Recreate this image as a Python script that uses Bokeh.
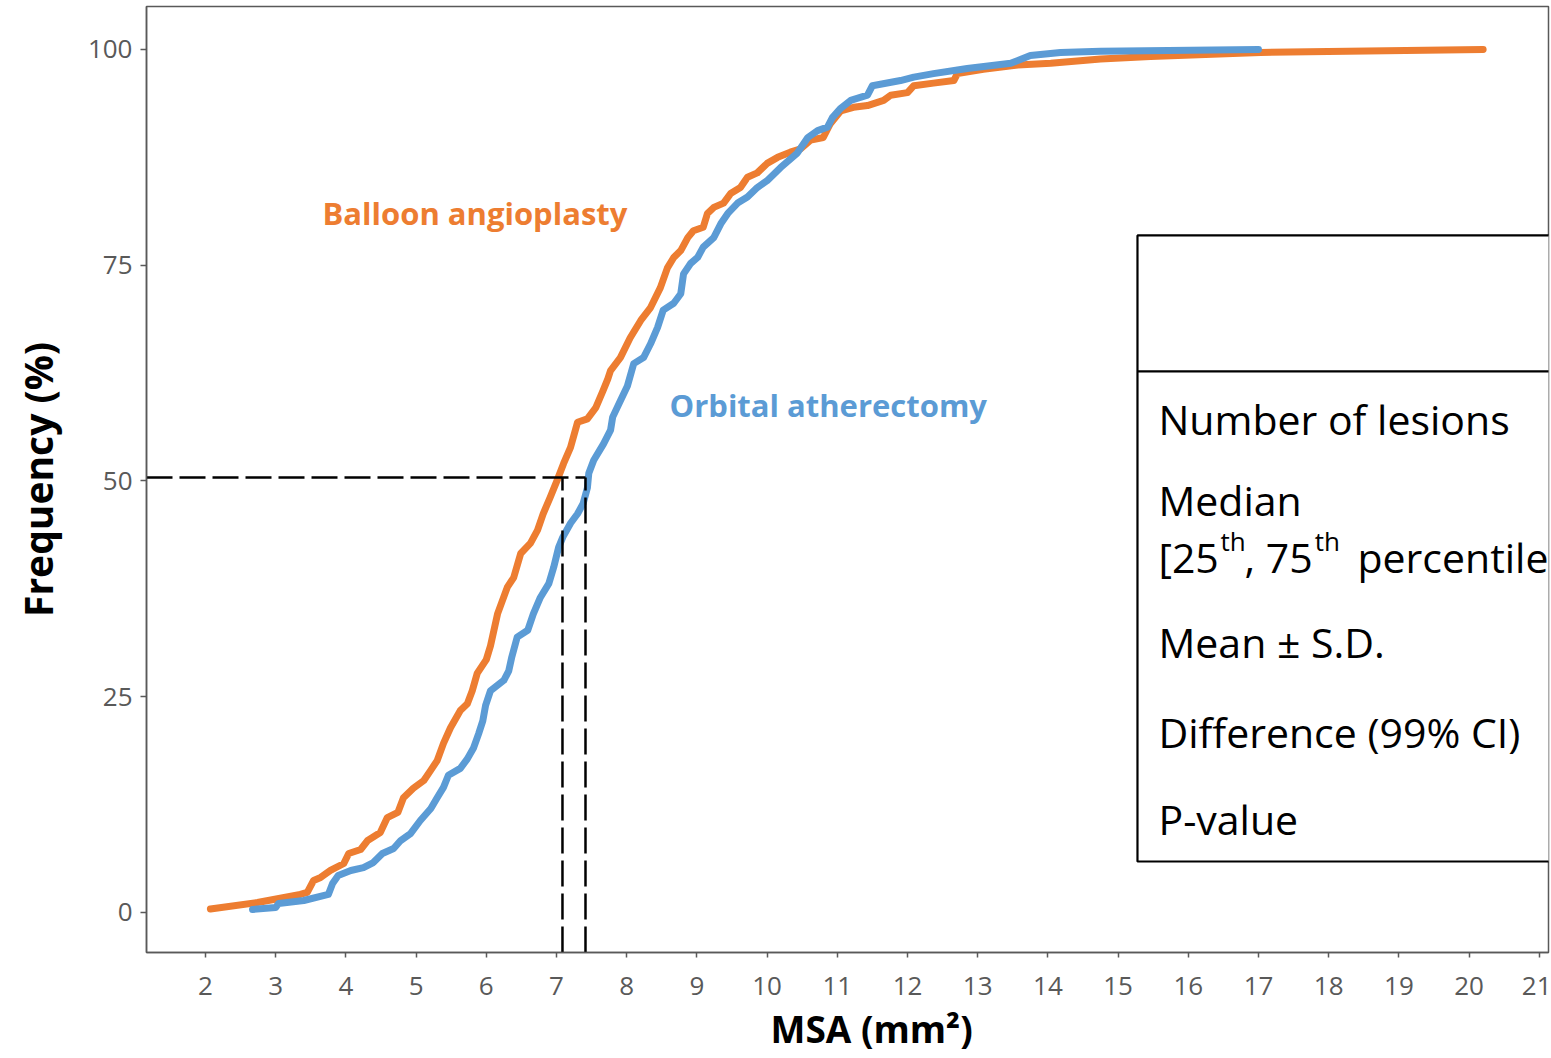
from bokeh.plotting import figure
from bokeh.models import Range1d, Title, FixedTicker
from bokeh.core.properties import value
from bokeh.embed import file_html
from bokeh.resources import INLINE

# ---------------- data ----------------
balloon_x = [2.07, 2.74, 3.35, 3.45, 3.54, 3.64, 3.78, 3.97, 4.04, 4.21, 4.31, 4.49, 4.59, 4.74,
             4.82, 4.96, 5.11, 5.21, 5.30, 5.39, 5.49, 5.63, 5.73, 5.80, 5.87, 6.00, 6.06, 6.16,
             6.30, 6.39, 6.49, 6.63, 6.73, 6.81, 6.91, 7.01, 7.10, 7.20, 7.30, 7.44, 7.56, 7.66,
             7.73, 7.77, 7.91, 8.05, 8.20, 8.34, 8.48, 8.58, 8.67, 8.77, 8.87, 8.95, 9.09, 9.15,
             9.24, 9.38, 9.48, 9.62, 9.72, 9.86, 10.0, 10.15, 10.33, 10.48, 10.62, 10.80, 10.90,
             11.05, 11.23, 11.43, 11.66, 11.76, 12.0, 12.09, 12.37, 12.66, 12.71, 13.08, 13.57,
             14.04, 14.75, 15.46, 17.03, 20.2]
balloon_y = [0.4, 1.16, 2.09, 2.32, 3.71, 4.06, 4.87, 5.68, 6.84, 7.30, 8.34, 9.27, 11.0, 11.6,
             13.3, 14.4, 15.3, 16.5, 17.6, 19.6, 21.4, 23.4, 24.2, 25.7, 27.7, 29.3, 30.9, 34.6,
             37.7, 38.8, 41.6, 42.8, 44.3, 46.2, 48.1, 50.1, 52.0, 53.9, 56.8, 57.2, 58.5, 60.4,
             61.8, 62.8, 64.3, 66.6, 68.6, 70.1, 72.4, 74.7, 75.9, 76.7, 78.2, 79.0, 79.4, 81.0,
             81.7, 82.2, 83.3, 84.0, 85.2, 85.7, 86.8, 87.5, 88.1, 88.5, 89.5, 89.8, 91.4,
             92.9, 93.3, 93.5, 94.1, 94.7, 95.0, 95.8, 96.1, 96.4, 97.2, 97.7, 98.2,
             98.4, 98.9, 99.2, 99.65, 100.0]

orbital_x = [2.67, 3.0, 3.04, 3.40, 3.75, 3.81, 3.89, 4.07, 4.25, 4.39, 4.52, 4.68, 4.78, 4.92,
             5.06, 5.21, 5.30, 5.39, 5.46, 5.63, 5.73, 5.82, 5.89, 5.95, 5.99, 6.06, 6.25, 6.32,
             6.36, 6.44, 6.59, 6.67, 6.77, 6.89, 6.96, 7.03, 7.09, 7.20, 7.30, 7.38, 7.44, 7.46,
             7.53, 7.67, 7.77, 7.80, 7.91, 8.01, 8.10, 8.24, 8.34, 8.44, 8.52, 8.67, 8.77, 8.81,
             8.91, 9.01, 9.09, 9.24, 9.34, 9.44, 9.58, 9.72, 9.86, 10.0, 10.19, 10.43, 10.58,
             10.72, 10.86, 10.93, 11.05, 11.19, 11.43, 11.50, 11.90, 12.09, 12.37, 12.85, 13.47,
             13.75, 14.18, 14.75, 17.0]
orbital_y = [0.35, 0.58, 1.04, 1.39, 2.09, 3.36, 4.29, 4.87, 5.21, 5.79, 6.84, 7.42, 8.34, 9.15,
             10.66, 12.05, 13.3, 14.5, 15.9, 16.7, 17.8, 19.1, 20.7, 22.2, 24.0, 25.7, 26.9, 28.0,
             29.5, 31.9, 32.7, 34.6, 36.5, 38.1, 40.0, 42.3, 43.5, 45.1, 46.2, 47.4, 49.2, 50.9,
             52.4, 54.3, 55.9, 57.4, 59.3, 61.0, 63.6, 64.3, 65.9, 67.8, 69.8, 70.6, 71.7, 74.0,
             75.2, 75.9, 77.1, 78.2, 79.8, 81.0, 82.2, 82.9, 84.0, 84.8, 86.3, 88.0, 89.8,
             90.6, 91.0, 92.1, 93.2, 94.1, 94.7, 95.8, 96.4, 96.8, 97.2, 97.8, 98.4,
             99.3, 99.65, 99.8, 100.0]

median_level = 50
median_balloon = 7.085
median_orbital = 7.413

x_ticks = list(range(2, 22))
y_ticks = [0, 25, 50, 75, 100]

table_rows = ["Number of lesions", "Median", "Mean \u00b1 S.D.", "Difference (99% CI)", "P-value"]
percentile_parts = ["[25", "th", ", 75", "th", "percentile"]

ORANGE = "#ED7D31"
BLUE = "#5B9BD5"
GREY = "#595959"
FONT = "Open Sans"

# ---------------- figure ----------------
X0, X1 = 1.1595, 21.131
Y0, Y1 = -4.635, 104.98

p = figure(width=1551, height=1058, output_backend="svg", toolbar_location=None,
           x_range=Range1d(X0, X1), y_range=Range1d(Y0, Y1), title=None,
           min_border_left=146, min_border_right=3, min_border_top=6, min_border_bottom=106)
p.background_fill_color = "white"
p.border_fill_color = "white"
p.outline_line_color = GREY
p.outline_line_width = 1.5
p.xgrid.visible = False
p.ygrid.visible = False

p.xaxis.ticker = FixedTicker(ticks=x_ticks)
p.yaxis.ticker = FixedTicker(ticks=y_ticks)
for ax in (p.xaxis[0], p.yaxis[0]):
    ax.axis_line_color = GREY
    ax.axis_line_width = 1.5
    ax.major_tick_line_color = GREY
    ax.major_tick_line_width = 1.5
    ax.major_tick_in = 0
    ax.minor_tick_line_color = None
    ax.major_label_text_font = FONT
    ax.major_label_text_font_size = "26px"
    ax.major_label_text_color = GREY
p.yaxis.major_tick_out = 6
p.xaxis.major_tick_out = 5
p.yaxis.major_label_standoff = 8
p.xaxis.major_label_standoff = 19

p.yaxis.axis_label = "Frequency (%)"
p.yaxis.axis_label_text_font = FONT
p.yaxis.axis_label_text_font_size = "39px"
p.yaxis.axis_label_text_font_style = "bold"
p.yaxis.axis_label_text_color = "black"
p.yaxis.axis_label_standoff = 21

xt = Title(text="MSA (mm\u00b2)", align="left", offset=624, text_font=FONT,
           text_font_size="37px", text_font_style="bold", text_color="black", standoff=7)
p.add_layout(xt, "below")

# ---------------- table (white box) ----------------
p.quad(left=15.276, right=23, top=78.45, bottom=5.91, fill_color="white",
       line_color="black", line_width=2.2)
p.segment(x0=15.276, y0=62.69, x1=23, y1=62.69, line_color="black", line_width=2.2)

row_y = [57.24, 47.74, 31.4, 20.97, 10.78]
p.text(x=[15.575] * len(table_rows), y=row_y, text=table_rows, text_font=value(FONT),
       text_font_size="41px", text_baseline="middle", text_align="left", text_color="black")
# percentile line with superscripts
p.text(x=[15.575, 16.80, 18.41], y=[41.25] * 3,
       text=[percentile_parts[0], percentile_parts[2], percentile_parts[4]],
       text_font=value(FONT), text_font_size="41px", text_baseline="middle",
       text_align="left", text_color="black")
p.text(x=[16.46, 17.80], y=[43.0, 43.0], text=[percentile_parts[1], percentile_parts[3]],
       text_font=value(FONT), text_font_size="26px", text_baseline="middle",
       text_align="left", text_color="black")

# ---------------- curves ----------------
p.line(balloon_x, balloon_y, line_color=ORANGE, line_width=7, line_join="round", line_cap="round")
p.line(orbital_x, orbital_y, line_color=BLUE, line_width=7, line_join="round", line_cap="round")

# ---------------- dashed median guides ----------------
p.segment(x0=[X0], y0=[median_level + 0.4], x1=[median_orbital], y1=[median_level + 0.4],
          line_color="black", line_width=2.5, line_dash="26 7")
p.segment(x0=[median_balloon, median_orbital], y0=[Y0, Y0],
          x1=[median_balloon, median_orbital], y1=[median_level + 0.4, median_level + 0.4],
          line_color="black", line_width=2.5, line_dash="26 7")

# ---------------- series labels ----------------
p.text(x=[3.667], y=[81.1], text=["Balloon angioplasty"], text_font=value(FONT),
       text_font_size="31px", text_font_style="bold", text_color=ORANGE,
       text_baseline="middle", text_align="left")
p.text(x=[8.61], y=[58.75], text=["Orbital atherectomy"], text_font=value(FONT),
       text_font_size="31px", text_font_style="bold", text_color=BLUE,
       text_baseline="middle", text_align="left")

open("out.html", "w").write(file_html(p, INLINE))
